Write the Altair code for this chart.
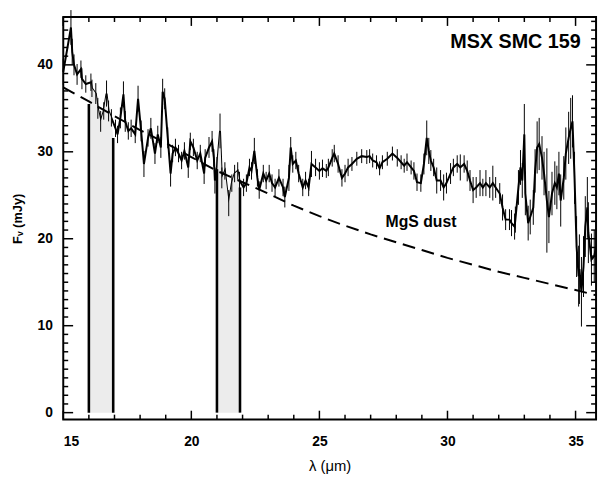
import altair as alt
import pandas as pd

# ---- spectrum (wavelength in micron, flux in mJy, 1-sigma error) ----
lam = [15.00, 15.30, 15.35, 15.42, 15.54, 15.69, 15.73, 15.88, 16.08, 16.12,
       16.27, 16.35, 16.46, 16.58, 16.69, 16.77, 16.88, 17.04, 17.12, 17.23,
       17.35, 17.42, 17.54, 17.65, 17.81, 17.92, 18.04, 18.15, 18.31, 18.42,
       18.58, 18.69, 18.81, 18.88, 18.96, 19.08, 19.19, 19.27, 19.38, 19.50,
       19.62, 19.73, 19.88, 19.96, 20.08, 20.23, 20.35, 20.50,
       20.54, 20.69, 20.81, 20.88, 20.92, 21.00, 21.12, 21.19, 21.31, 21.46,
       21.58, 21.69, 21.81, 21.88, 22.04, 22.15, 22.27, 22.35, 22.46, 22.58,
       22.65, 22.81, 22.92, 23.04, 23.15, 23.27, 23.42, 23.58, 23.65, 23.81,
       23.88, 23.96, 24.08, 24.19, 24.35, 24.46, 24.58, 24.69, 24.85, 25.00,
       25.12, 25.27, 25.35, 25.50, 25.58, 25.73, 25.88, 26.00,
       26.12, 26.27, 26.46, 26.65, 26.85, 26.96, 27.08, 27.23, 27.35, 27.46,
       27.65, 27.85, 28.04, 28.19, 28.31, 28.42, 28.58, 28.69, 28.81, 28.96,
       29.08, 29.19, 29.27, 29.35, 29.46, 29.58, 29.73, 29.85, 29.96, 30.12,
       30.23, 30.38, 30.50, 30.65, 30.77, 30.88, 31.00, 31.12, 31.27, 31.38,
       31.50, 31.65, 31.77, 31.88, 32.04, 32.15, 32.27, 32.42, 32.50, 32.62,
       32.65, 32.77, 32.85, 32.92, 33.00, 33.04, 33.15, 33.23, 33.35, 33.42,
       33.50, 33.58, 33.69, 33.77, 33.88, 33.96, 34.08, 34.19, 34.27, 34.35,
       34.42, 34.54, 34.62, 34.73, 34.81, 34.88, 34.96, 35.04, 35.12, 35.15,
       35.23, 35.31, 35.38, 35.46, 35.50, 35.62, 35.73, 35.80]

flux = [39.2, 44.3, 41.5, 40.0, 38.9, 39.5, 38.4, 37.8, 38.0, 37.3,
        36.7, 35.0, 33.5, 34.7, 36.7, 34.7, 33.9, 32.7, 32.0, 33.9,
        36.6, 33.5, 32.4, 32.7, 32.0, 36.1, 32.4, 28.6, 31.6, 32.7,
        29.8, 32.0, 30.5, 36.9, 36.1, 31.6, 27.5, 29.8, 30.5, 29.8,
        29.0, 30.1, 28.2, 31.2, 30.5, 29.0, 29.8, 27.5,
        29.3, 30.5, 31.2, 29.3, 26.7, 28.2, 32.4, 27.0, 27.8, 24.1,
        26.4, 27.5, 27.8, 26.7, 25.9, 26.4, 28.2, 27.8, 30.1, 27.0,
        25.6, 27.5, 26.7, 27.5, 26.4, 25.9, 27.0, 25.9, 24.8, 27.0,
        30.5, 28.6, 29.0, 27.5, 25.9, 26.7, 25.9, 28.6, 28.2, 27.8,
        28.1, 27.8, 28.2, 29.3, 29.8, 28.6, 27.0, 27.5,
        28.2, 28.6, 29.2, 29.5, 29.4, 29.5, 29.0, 28.8, 28.1, 28.8,
        29.2, 29.8, 29.3, 28.8, 28.4, 28.8, 28.2, 27.8, 26.5, 26.4,
        28.6, 31.6, 30.1, 29.0, 28.2, 26.7, 26.7, 25.9, 26.4, 27.5,
        28.2, 28.6, 28.2, 28.6, 27.8, 26.7, 25.6, 25.9, 26.4, 25.9,
        26.4, 25.9, 26.4, 25.9, 25.2, 23.6, 22.2, 22.2, 21.8, 21.4,
        22.2, 25.9, 28.2, 26.7, 32.0, 25.2, 21.8, 22.5, 23.6, 27.8,
        30.5, 30.9, 29.3, 27.5, 24.4, 22.5, 25.2, 26.4, 25.9, 27.5,
        24.4, 27.0, 29.8, 31.6, 32.7, 33.5, 27.0, 19.1, 15.7, 16.5,
        13.9, 16.8, 21.4, 23.6, 20.7, 17.6, 18.0, 19.1]

err = [1.5, 2.0, 1.5, 1.2, 1.2, 1.0, 1.2, 1.0, 1.0, 1.0,
       1.2, 1.2, 1.2, 1.0, 1.5, 1.2, 1.0, 1.0, 1.0, 1.2,
       1.5, 1.2, 1.0, 1.0, 1.0, 1.5, 1.2, 1.5, 1.0, 1.2,
       1.2, 1.0, 1.2, 1.5, 1.2, 1.2, 1.5, 1.0, 1.0, 1.0,
       1.0, 1.0, 1.2, 1.0, 1.0, 1.0, 1.0, 1.2,
       1.0, 1.2, 1.2, 1.0, 1.5, 1.2, 2.0, 1.2, 1.0, 1.5,
       1.0, 1.0, 1.0, 1.0, 1.0, 1.0, 1.0, 1.0, 1.5, 1.0,
       1.0, 1.0, 1.0, 1.0, 1.0, 1.0, 1.0, 1.0, 1.2, 1.5,
       1.2, 1.0, 1.0, 1.0, 1.0, 1.0, 1.0, 1.5, 1.0, 1.0,
       1.0, 0.8, 1.0, 1.0, 1.0, 1.0, 1.0, 1.0,
       1.0, 0.8, 0.8, 0.8, 0.8, 0.8, 0.8, 0.8, 0.8, 0.8,
       0.8, 0.8, 1.0, 0.8, 0.8, 1.0, 0.8, 1.0, 1.0, 1.0,
       1.2, 2.0, 1.5, 1.2, 1.0, 1.5, 1.2, 1.5, 1.2, 1.2,
       1.0, 1.0, 1.5, 1.0, 1.2, 1.2, 1.5, 1.2, 1.5, 1.0,
       1.5, 1.2, 2.0, 1.2, 1.2, 1.5, 1.2, 1.2, 1.5, 1.5,
       1.5, 2.0, 2.0, 2.0, 3.5, 2.5, 2.0, 2.0, 2.0, 2.5,
       3.0, 3.0, 2.5, 2.5, 6.0, 3.0, 2.5, 2.5, 2.5, 2.5,
       3.0, 2.5, 3.0, 3.0, 3.5, 3.0, 3.0, 3.5, 3.5, 4.0,
       4.0, 3.5, 3.5, 3.5, 3.5, 3.0, 3.0, 3.0]

# ---- MgS dust continuum (dashed) ----
cont_lam = [15, 16, 17, 18, 19, 20, 21, 22, 23, 24, 25, 26, 27, 28, 29, 30,
            31, 32, 33, 34, 35, 35.8]
cont_flux = [37.4, 35.8, 34.1, 32.5, 31.0, 29.4, 27.8, 26.5, 25.2, 23.8, 22.6,
             21.5, 20.5, 19.6, 18.7, 17.8, 17.0, 16.2, 15.5, 14.8, 14.1, 13.5]

# ---- shaded bands ----
band_lo = [16.0, 21.0]
band_hi = [16.95, 21.9]
band_top_lo = [35.5, 28.0]
band_top_hi = [31.6, 25.9]

# ---- ticks ----
x_major = [15, 20, 25, 30, 35]
x_minor = [v for v in range(16, 36) if v % 5 != 0]
y_major = [0, 10, 20, 30, 40]
y_minor = [v for v in range(1, 46) if v % 10 != 0]

X_DOM = [15, 35.8]
Y_DOM = [-0.8, 45.5]
W, H = 540, 408
PX_X = (X_DOM[1] - X_DOM[0]) / W   # data units per pixel
PX_Y = (Y_DOM[1] - Y_DOM[0]) / H

assert len(lam) == len(flux) == len(err)

FONT = "Liberation Sans"

xs = alt.Scale(domain=X_DOM, nice=False, zero=False)
ys = alt.Scale(domain=Y_DOM, nice=False, zero=False)

xa = alt.Axis(values=x_major, title="λ (μm)", format="d",
              ticks=False, tickSize=0, domain=False, grid=False,
              labelPadding=15, labelFont=FONT, labelFontSize=14,
              labelFontWeight="bold", labelColor="black",
              titleFont=FONT, titleFontSize=15, titleFontWeight="normal",
              titleColor="black", titleY=52, titleBaseline="alphabetic")
ya = alt.Axis(values=y_major, title="Fᵥ (mJy)", format="d",
              ticks=False, tickSize=0, domain=False, grid=False,
              labelPadding=11, labelFont=FONT, labelFontSize=14,
              labelFontWeight="bold", labelColor="black",
              titleFont=FONT, titleFontSize=13, titleFontWeight="bold",
              titleColor="black", titleX=-42, titleY=H / 2,
              titleAngle=270, titleAlign="center",
              titleBaseline="alphabetic")


def Xn(field):
    return alt.X(field, scale=xs, axis=None)


def Yn(field):
    return alt.Y(field, scale=ys, axis=None)


spec = pd.DataFrame({"lam": lam, "flux": flux,
                     "lo": [f - e for f, e in zip(flux, err)],
                     "hi": [f + e for f, e in zip(flux, err)]})
cont = pd.DataFrame({"lam": cont_lam, "flux": cont_flux})

rows = []
for b, (lo, hi, tl, th) in enumerate(zip(band_lo, band_hi, band_top_lo, band_top_hi)):
    rows.append({"band": b, "lam": lo, "flux": tl, "base": 0.0})
    for l, f in zip(lam, flux):
        if lo < l < hi:
            rows.append({"band": b, "lam": l, "flux": f, "base": 0.0})
    rows.append({"band": b, "lam": hi, "flux": th, "base": 0.0})
bands = pd.DataFrame(rows)
edges = pd.DataFrame({"lam": band_lo + band_hi, "top": band_top_lo + band_top_hi,
                      "base": [0.0] * 4})

# the only layer that carries the axes
spec_line = alt.Chart(spec).mark_line(color="black", strokeWidth=2).encode(
    x=alt.X("lam:Q", scale=xs, axis=xa, title="λ (μm)"),
    y=alt.Y("flux:Q", scale=ys, axis=ya, title="Fᵥ (mJy)"))
band_area = alt.Chart(bands).mark_area(color="#ececec", opacity=1).encode(
    x=Xn("lam:Q"), y=Yn("base:Q"), y2="flux:Q", detail="band:N")
band_edges = alt.Chart(edges).mark_rule(color="black", strokeWidth=2.6).encode(
    x=Xn("lam:Q"), y=Yn("base:Q"), y2="top:Q")
cont_line = alt.Chart(cont).mark_line(color="black", strokeWidth=2, strokeDash=[13, 7]).encode(
    x=Xn("lam:Q"), y=Yn("flux:Q"))
ebars = alt.Chart(spec).mark_rule(color="black", strokeWidth=1).encode(
    x=Xn("lam:Q"), y=Yn("lo:Q"), y2="hi:Q")

# tick marks pointing inward on all four sides
tick_rows_x = []
for v in x_major + x_minor:
    L = 9 if v in x_major else 5
    tick_rows_x.append({"tx": float(v), "ta": Y_DOM[0], "tb": Y_DOM[0] + L * PX_Y})
    tick_rows_x.append({"tx": float(v), "ta": Y_DOM[1], "tb": Y_DOM[1] - L * PX_Y})
tick_rows_y = []
for v in y_major + y_minor:
    L = 10 if v in y_major else 5
    tick_rows_y.append({"ty": float(v), "ta": X_DOM[0], "tb": X_DOM[0] + L * PX_X})
    tick_rows_y.append({"ty": float(v), "ta": X_DOM[1], "tb": X_DOM[1] - L * PX_X})

xticks = alt.Chart(pd.DataFrame(tick_rows_x)).mark_rule(color="black", strokeWidth=1.5).encode(
    x=Xn("tx:Q"), y=Yn("ta:Q"), y2="tb:Q")
yticks = alt.Chart(pd.DataFrame(tick_rows_y)).mark_rule(color="black", strokeWidth=1.5).encode(
    y=Yn("ty:Q"), x=Xn("ta:Q"), x2="tb:Q")

labels = pd.DataFrame({"lam": [35.2], "flux": [41.9], "t": ["MSX SMC 159"]})
title_txt = alt.Chart(labels).mark_text(align="right", baseline="alphabetic", font=FONT,
                                        fontSize=20, fontWeight="bold", color="black").encode(
    x=Xn("lam:Q"), y=Yn("flux:Q"), text="t:N")

mgs = pd.DataFrame({"lam": [27.58], "flux": [21.4], "t": ["MgS dust"]})
mgs_txt = alt.Chart(mgs).mark_text(align="left", baseline="alphabetic", font=FONT,
                                   fontSize=16, fontWeight="bold", color="black").encode(
    x=Xn("lam:Q"), y=Yn("flux:Q"), text="t:N")

chart = alt.layer(
    spec_line, band_area, band_edges, cont_line, ebars,
    title_txt, mgs_txt, xticks, yticks,
).resolve_axis(
    x="independent", y="independent"
).properties(
    width=W, height=H,
    autosize=alt.AutoSizeParams(type="none"),
    padding={"left": 56, "top": 6, "right": 4, "bottom": 54},
    background="white",
).configure_view(stroke="black", strokeWidth=2)

chart.save("out.html", embed_options={"renderer": "svg", "actions": False})
